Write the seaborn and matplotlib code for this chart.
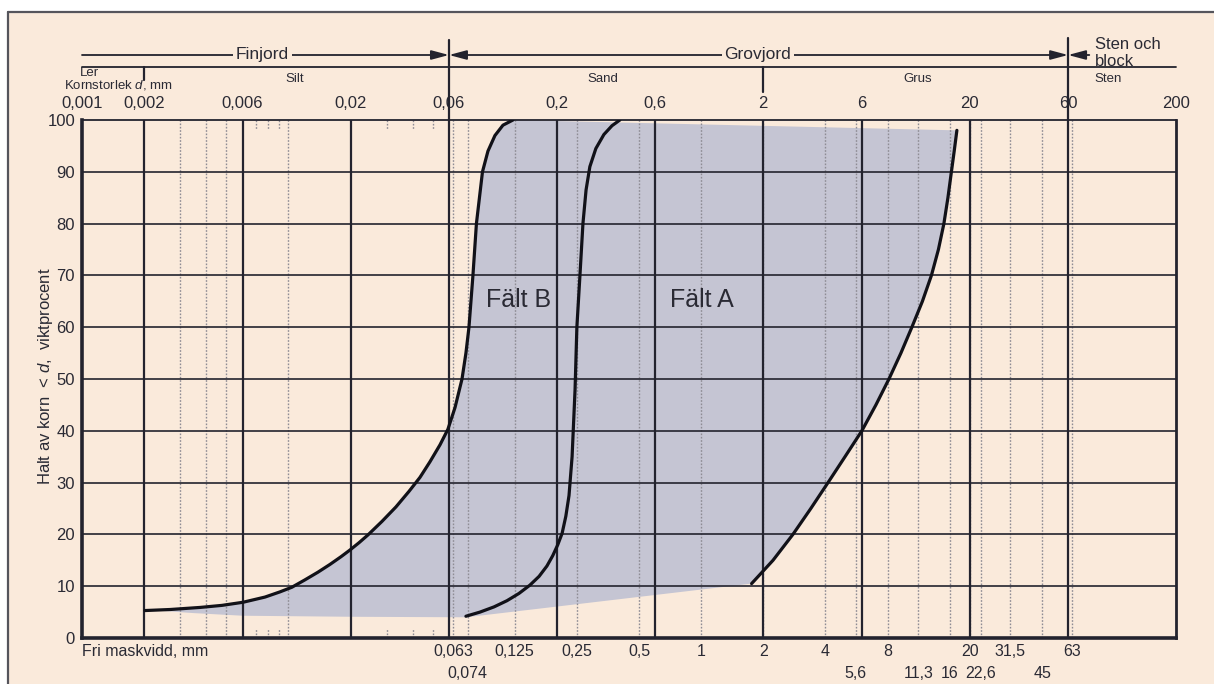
import numpy as np
import pandas as pd
import seaborn as sns
import matplotlib.pyplot as plt
import matplotlib.transforms as mtransforms
from matplotlib.patches import Rectangle
from matplotlib.lines import Line2D
from matplotlib.ticker import NullLocator

# ---- grain size scale (mm) -------------------------------------------------
class_bounds = [0.002, 0.006, 0.02, 0.06, 0.2, 0.6, 2, 6, 20, 60]
top_ticks = [0.001, 0.002, 0.006, 0.02, 0.06, 0.2, 0.6, 2, 6, 20, 60, 200]
top_labels = ["0,001", "0,002", "0,006", "0,02", "0,06", "0,2", "0,6",
              "2", "6", "20", "60", "200"]

# sieve openings ("fri maskvidd")
sieve_row1 = [0.063, 0.125, 0.25, 0.5, 1, 2, 4, 8, 20, 31.5, 63]
sieve_row1_labels = ["0,063", "0,125", "0,25", "0,5", "1", "2", "4", "8",
                     "20", "31,5", "63"]
sieve_row2 = [0.074, 5.6, 11.3, 16, 22.6, 45]
sieve_row2_labels = ["0,074", "5,6", "11,3", "16", "22,6", "45"]
sieve_lines = sieve_row1 + sieve_row2
hydro_lines = [0.003, 0.004, 0.005, 0.01]
minor_marks = [0.007, 0.008, 0.009, 0.03, 0.04, 0.05]
pct_ticks = list(range(0, 101, 10))

# ---- grading envelope curves ------------------------------------------------
# left limit of field B
b_left_d = [0.00202, 0.00267, 0.00373, 0.00477, 0.00603, 0.0077, 0.0091,
            0.0104, 0.0120, 0.0139, 0.0159, 0.0180, 0.0199, 0.0220, 0.0243,
            0.0284, 0.0332, 0.0384, 0.0434, 0.0485, 0.0543, 0.0593, 0.0642,
            0.0694, 0.0725, 0.0750, 0.0784, 0.0815, 0.0872, 0.0927, 0.1002,
            0.1096, 0.1225]
b_left_p = [5.3, 5.5, 5.9, 6.3, 6.9, 7.9, 8.9,
            9.8, 11.2, 12.7, 14.2, 15.7, 17.0, 18.4, 19.9,
            22.5, 25.3, 28.3, 31.0, 34.0, 37.3, 40.3, 44.5,
            50.0, 55.0, 60.0, 70.0, 80.0, 90.0, 94.0, 97.0,
            99.0, 100.0]

# limit between field B and field A
ab_mid_d = [0.0725, 0.0848, 0.0991, 0.1146, 0.131, 0.148, 0.164, 0.179,
            0.191, 0.202, 0.212, 0.221, 0.229, 0.237, 0.245, 0.250, 0.2587,
            0.2675, 0.277, 0.289, 0.309, 0.338, 0.370, 0.404]
ab_mid_p = [4.2, 5.0, 6.0, 7.2, 8.6, 10.2, 11.9, 13.9,
            15.9, 18.0, 20.2, 23.5, 27.5, 35.0, 48.0, 60.0, 70.0,
            80.0, 86.5, 91.0, 94.5, 97.2, 98.9, 100.0]

# right limit of field A
a_right_d = [1.756, 2.23, 2.785, 3.40, 4.12, 4.98, 6.01, 7.03, 8.13, 9.29,
             10.50, 11.81, 13.06, 14.12, 15.01, 15.70, 16.32, 16.84, 17.35]
a_right_p = [10.5, 15.0, 20.0, 25.0, 30.0, 35.0, 40.0, 45.0, 50.0, 55.0,
             60.0, 65.0, 70.0, 75.0, 80.0, 85.0, 90.0, 94.0, 98.0]

# lower limit of the shaded field (right to left)
lower_edge_d = [1.756, 0.0725, 0.02, 0.006, 0.0035, 0.0023]
lower_edge_p = [10.5, 4.0, 4.1, 4.3, 4.8, 5.3]

field_labels = ["Fält B", "Fält A"]
field_label_d = [0.13, 1.01]
field_label_p = [65.2, 65.2]

# ---- style -----------------------------------------------------------------
PAPER = "#FAEADB"
SHADE = "#C5C5D3"
INK = "#23232E"
DOT = "#8E8C94"
W, H = 1214, 684

sns.set_style("white")
plt.rcParams["font.family"] = ["Liberation Sans", "DejaVu Sans"]
plt.rcParams["mathtext.fontset"] = "custom"
plt.rcParams["mathtext.rm"] = "Liberation Sans"
plt.rcParams["mathtext.it"] = "Liberation Sans:italic"

fig = plt.figure(figsize=(W / 100, H / 100), dpi=100)
fig.patch.set_facecolor("white")


def fy(ypx):
    return 1 - ypx / H


# paper sheet with its top and left edge
fig.add_artist(Rectangle((8 / W, 0), 1, fy(12), transform=fig.transFigure,
                         facecolor=PAPER, edgecolor="none", zorder=-10))
fig.add_artist(Line2D([8 / W, 1], [fy(12), fy(12)], transform=fig.transFigure,
                      color="#55555c", lw=1.6))
fig.add_artist(Line2D([8 / W, 8 / W], [0, fy(12)], transform=fig.transFigure,
                      color="#55555c", lw=1.6))

ax = fig.add_axes([82 / W, fy(638), (1176 - 82) / W, (638 - 120) / H])
ax.set_facecolor(PAPER)
ax.set_xscale("log")
ax.set_xlim(0.001, 200)
ax.set_ylim(0, 100)

# shaded grading field
shade_d = b_left_d + a_right_d[::-1] + lower_edge_d
shade_p = b_left_p + a_right_p[::-1] + lower_edge_p
ax.fill(shade_d, shade_p, color=SHADE, lw=0, zorder=1)

# dotted sieve / hydrometer lines
for v in sieve_lines + hydro_lines:
    ax.axvline(v, color=DOT, lw=1.0, ls=(0, (1.2, 1.2)), zorder=1.5)
for v in minor_marks:
    ax.plot([v, v], [100, 98], color=DOT, lw=1.0, ls=(0, (1.2, 1.2)), zorder=1.5)
    ax.plot([v, v], [0, 2], color=DOT, lw=1.0, ls=(0, (1.2, 1.2)), zorder=1.5)

# main grid
for v in class_bounds:
    ax.axvline(v, color=INK, lw=1.6, zorder=2)
for p in pct_ticks[1:-1]:
    ax.axhline(p, color=INK, lw=1.2, zorder=2)

# envelope curves
for d, p in [(b_left_d, b_left_p), (ab_mid_d, ab_mid_p), (a_right_d, a_right_p)]:
    sns.lineplot(x=d, y=p, sort=False, estimator=None, color="#111118",
                 lw=2.3, ax=ax, zorder=3)

for lab, d, p in zip(field_labels, field_label_d, field_label_p):
    ax.text(d, p, lab, fontsize=18, color="#2a2a34", ha="center", va="center",
            zorder=4)

# frame
for side, lw in [("left", 2.6), ("bottom", 2.6), ("right", 2.0), ("top", 1.3)]:
    ax.spines[side].set_visible(True)
    ax.spines[side].set_linewidth(lw)
    ax.spines[side].set_color(INK)

ax.xaxis.set_minor_locator(NullLocator())
ax.set_xticks([])
ax.set_yticks(pct_ticks)
ax.set_yticklabels([str(v) for v in pct_ticks])
ax.tick_params(axis="y", length=0, pad=5, labelsize=12, labelcolor="#2a2a34")
ax.set_xlabel("")
ax.set_ylabel("")

fig.text(46 / W, fy(376), "Halt av korn  < $d$,  viktprocent", rotation=90,
         ha="center", va="center", fontsize=12, color="#2a2a34")

# ---- labelling above the diagram ------------------------------------------
trans = mtransforms.blended_transform_factory(ax.transData, fig.transFigure)
txt = dict(color="#2a2a34")

for v, lab in zip(top_ticks, top_labels):
    ax.text(v, fy(104), lab, transform=trans, ha="center", va="center",
            fontsize=12, **txt)

fig.add_artist(Line2D([0.001, 200], [fy(67), fy(67)], transform=trans,
                      color=INK, lw=1.3))
for v, y0, y1 in [(0.002, 67, 80), (2, 67, 92), (0.06, 40, 120), (60, 38, 120)]:
    fig.add_artist(Line2D([v, v], [fy(y0), fy(y1)], transform=trans,
                          color=INK, lw=1.6))

arrow = dict(shrinkA=0, shrinkB=0, color=INK, lw=1.3, mutation_scale=14)
ax.annotate("", xy=(0.06, fy(55)), xycoords=trans, xytext=(0.001, fy(55)),
            textcoords=trans, annotation_clip=False,
            arrowprops=dict(arrowstyle="-|>,head_length=0.75,head_width=0.2", **arrow))
ax.annotate("", xy=(60, fy(55)), xycoords=trans, xytext=(0.06, fy(55)),
            textcoords=trans, annotation_clip=False,
            arrowprops=dict(arrowstyle="<|-|>,head_length=0.75,head_width=0.2", **arrow))
ax.annotate("", xy=(60, fy(55)), xycoords=trans, xytext=(76, fy(55)),
            textcoords=trans, annotation_clip=False,
            arrowprops=dict(arrowstyle="-|>,head_length=0.75,head_width=0.2", **arrow))

box = dict(boxstyle="square,pad=0.15", facecolor=PAPER, edgecolor="none")
ax.text(0.0075, fy(55), "Finjord", transform=trans, ha="center", va="center",
        fontsize=12.5, bbox=box, **txt)
ax.text(1.88, fy(55), "Grovjord", transform=trans, ha="center", va="center",
        fontsize=12.5, bbox=box, **txt)
fig.text(1095 / W, fy(53), "Sten och\nblock", ha="left", va="center",
         fontsize=12, linespacing=1.15, **txt)

fig.text(80 / W, fy(73), "Ler", ha="left", va="center", fontsize=9.5, **txt)
fig.text(64 / W, fy(85), "Kornstorlek $d$, mm", ha="left", va="center",
         fontsize=9.5, **txt)
for x, lab in [(295, "Silt"), (603, "Sand"), (918, "Grus")]:
    fig.text(x / W, fy(79), lab, ha="center", va="center", fontsize=9.5, **txt)
fig.text(1094 / W, fy(79), "Sten", ha="left", va="center", fontsize=9.5, **txt)

# ---- sieve labels below ----------------------------------------------------
fig.text(82 / W, fy(651), "Fri maskvidd, mm", ha="left", va="center",
         fontsize=11.5, **txt)
for v, lab in zip(sieve_row1, sieve_row1_labels):
    ax.text(v, fy(651), lab, transform=trans, ha="center", va="center",
            fontsize=11.5, **txt)
for v, lab in zip(sieve_row2, sieve_row2_labels):
    ax.text(v, fy(673), lab, transform=trans, ha="center", va="center",
            fontsize=11.5, **txt)

fig.savefig("out.png", dpi=100, facecolor=fig.get_facecolor())
